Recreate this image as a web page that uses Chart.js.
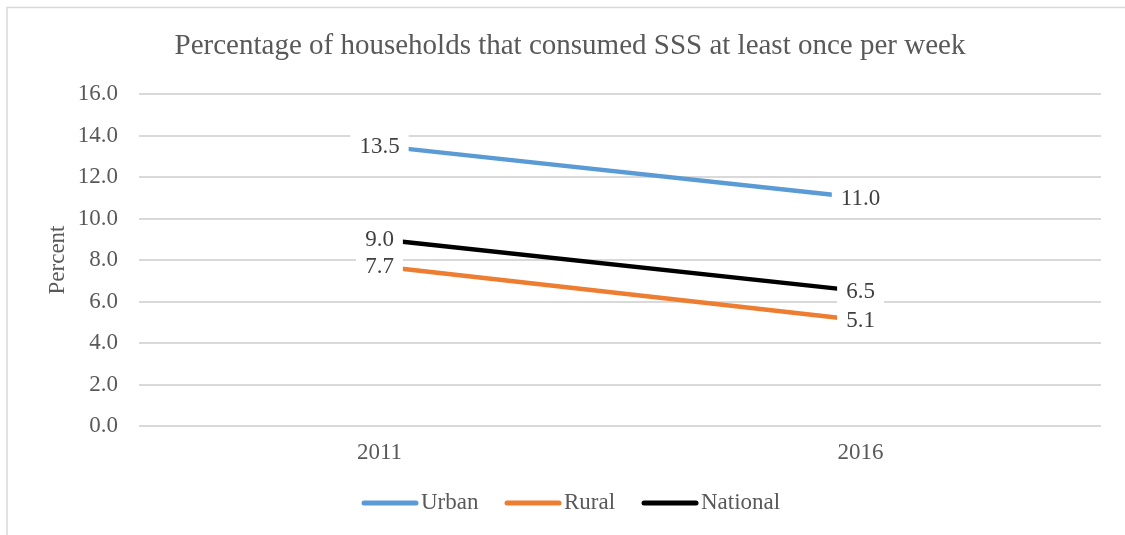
<!DOCTYPE html>
<html>
<head>
<meta charset="utf-8">
<script src="https://cdn.jsdelivr.net/npm/chart.js@4.4.1/dist/chart.umd.min.js"></script>
<style>
  html, body { margin: 0; padding: 0; background: #ffffff; }
  #wrap { position: relative; width: 1125px; height: 535px; }
</style>
</head>
<body>
<div id="wrap"><canvas id="c" width="1125" height="535"></canvas></div>
<script>
// Survey years and shares of households (%)
const years = ['2011', '2016'];
const urban = [13.5, 11.0];
const rural = [7.7, 5.1];
const national = [9.0, 6.5];
const yTicks = [0, 2, 4, 6, 8, 10, 12, 14, 16];

const chartTitle = 'Percentage of households that consumed SSS at least once per week';
const yTitle = 'Percent';
const serif = '"Liberation Serif", "Times New Roman", serif';
const textGrey = '#595959';

// Frame, title, axis title, value labels and legend
const decor = {
  id: 'decor',
  beforeDraw(chart) {
    const ctx = chart.ctx;
    ctx.save();
    ctx.fillStyle = '#ffffff';
    ctx.fillRect(0, 0, chart.width, chart.height);
    ctx.strokeStyle = '#d9d9d9';
    ctx.lineWidth = 1.5;
    ctx.beginPath();
    ctx.moveTo(7, 540);
    ctx.lineTo(7, 7.5);
    ctx.lineTo(1130, 7.5);
    ctx.stroke();
    ctx.restore();
  },
  afterDraw(chart) {
    const ctx = chart.ctx;
    ctx.save();
    // title
    ctx.fillStyle = textGrey;
    ctx.font = '29px ' + serif;
    ctx.textAlign = 'center';
    ctx.textBaseline = 'middle';
    ctx.fillText(chartTitle, 570, 46);
    // y axis title
    ctx.save();
    ctx.translate(58, 260);
    ctx.rotate(-Math.PI / 2);
    ctx.font = '23px ' + serif;
    ctx.fillText(yTitle, 0, 0);
    ctx.restore();
    // value labels on white boxes
    ctx.font = '23px ' + serif;
    chart.data.datasets.forEach((ds, i) => {
      const meta = chart.getDatasetMeta(i);
      meta.data.forEach((pt, j) => {
        const txt = ds.data[j].toFixed(1);
        const w = ctx.measureText(txt).width;
        ctx.fillStyle = '#ffffff';
        ctx.fillRect(pt.x - w / 2 - 9, pt.y - 14, w + 18, 28);
        ctx.fillStyle = '#404040';
        ctx.fillText(txt, pt.x, pt.y + 1);
      });
    });
    // legend
    const items = chart.data.datasets;
    const starts = [362, 505, 642];
    ctx.textAlign = 'left';
    ctx.font = '23px ' + serif;
    items.forEach((ds, i) => {
      const x = starts[i];
      const y = 503;
      ctx.strokeStyle = ds.borderColor;
      ctx.lineWidth = 5;
      ctx.lineCap = 'round';
      ctx.beginPath();
      ctx.moveTo(x + 2, y);
      ctx.lineTo(x + 54, y);
      ctx.stroke();
      ctx.fillStyle = textGrey;
      ctx.fillText(ds.label, x + 59, y);
    });
    ctx.restore();
  }
};

new Chart(document.getElementById('c'), {
  type: 'line',
  data: {
    labels: years,
    datasets: [
      { label: 'Urban', data: urban, borderColor: '#5B9BD5', backgroundColor: '#5B9BD5' },
      { label: 'Rural', data: rural, borderColor: '#ED7D31', backgroundColor: '#ED7D31' },
      { label: 'National', data: national, borderColor: '#000000', backgroundColor: '#000000' }
    ]
  },
  options: {
    responsive: false,
    animation: false,
    devicePixelRatio: 1,
    layout: { padding: { left: 0, right: 24, top: 94, bottom: 59 } },
    elements: {
      line: { borderWidth: 4.5, tension: 0, borderCapStyle: 'butt' },
      point: { radius: 0, hoverRadius: 0 }
    },
    plugins: {
      legend: { display: false },
      title: { display: false },
      tooltip: { enabled: false }
    },
    scales: {
      x: {
        offset: true,
        grid: { display: false, drawTicks: false },
        border: { display: false },
        ticks: { color: textGrey, font: { family: serif, size: 23 }, padding: 13 },
        afterFit(scale) { scale.height = 50; }
      },
      y: {
        min: 0,
        max: 16,
        afterBuildTicks(scale) { scale.ticks = yTicks.map(v => ({ value: v })); },
        grid: { color: '#d9d9d9', lineWidth: 2, drawTicks: false },
        border: { display: false },
        ticks: {
          color: textGrey,
          font: { family: serif, size: 23 },
          padding: 21,
          callback: v => Number(v).toFixed(1)
        },
        afterFit(scale) { scale.width = 139; }
      }
    }
  },
  plugins: [decor]
});
</script>
</body>
</html>
